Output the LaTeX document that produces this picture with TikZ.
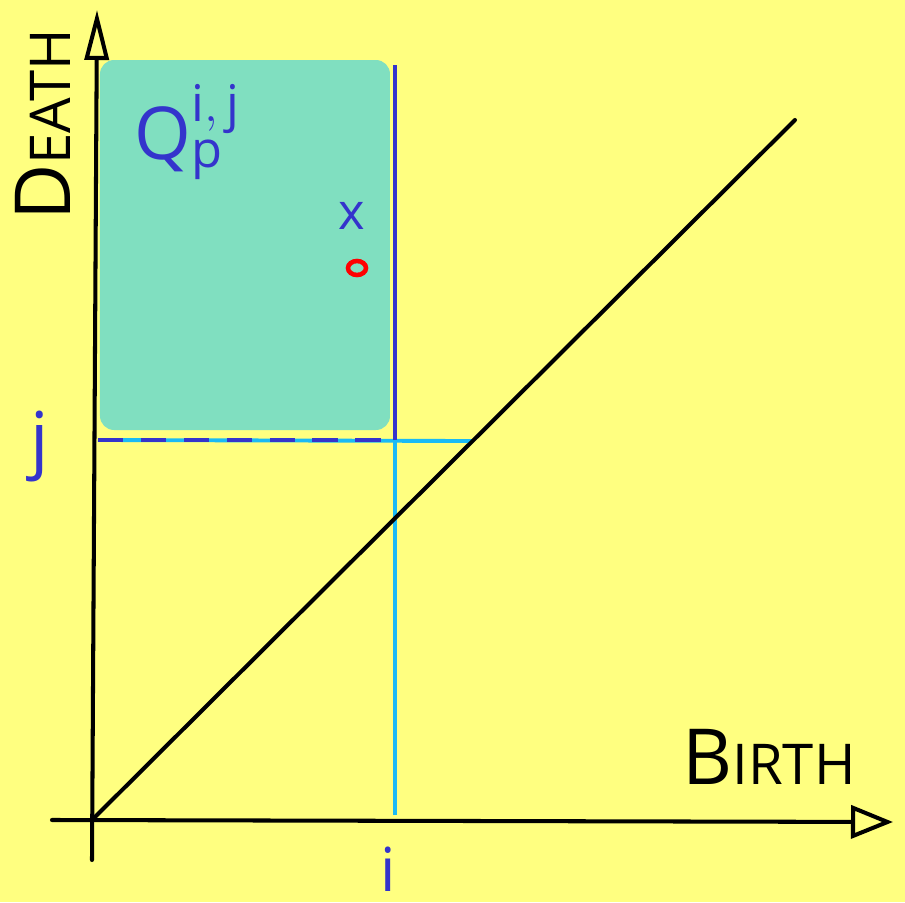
\documentclass[tikz,border=0pt]{standalone}
\usepackage{fontspec}
\setmainfont{Open Sans}
\setsansfont{Open Sans}
\usetikzlibrary{arrows.meta}
\definecolor{padyellow}{RGB}{255,255,128}
\definecolor{boxgreen}{RGB}{128,223,192}
\definecolor{penblue}{RGB}{52,52,204}
\definecolor{pencyan}{RGB}{26,186,245}
\tikzset{
  pen/.style={line width=1.15pt,line cap=round},
  axisarrow/.style={pen,-{Triangle[open,length=#1]}},
  bluepen/.style={penblue,line width=1.35pt},
  cyanpen/.style={pencyan,line width=1.1pt},
  bigcap/.style={font=\fontsize{21}{24}\selectfont},
}
\begin{document}
\begin{tikzpicture}[x=1cm,y=1cm]
  \useasboundingbox (0,0) rectangle (9.05,9.02);
  \clip (0,0) rectangle (9.05,9.02);
  \fill[padyellow] (0,0) rectangle (9.05,9.02);
  % the box Q above and left of (i,j)
  \fill[boxgreen,rounded corners=4pt] (1.00,4.72) rectangle (3.90,8.42);
  \coordinate (O) at (0.92,0.82);
  \coordinate (ybot) at (0.92,0.42);
  \coordinate (ytop) at (0.97,8.92);
  \coordinate (xleft) at (0.52,0.82);
  \coordinate (xright) at (8.93,0.80);
  \coordinate (diagend) at (7.95,7.82);
  \coordinate (ifoot) at (3.95,0.87);
  \coordinate (corner) at (3.95,4.62);
  \coordinate (itop) at (3.95,8.37);
  \coordinate (jleft) at (0.98,4.62);
  \coordinate (jdiag) at (4.72,4.61);
  \draw[cyanpen] (ifoot) -- (corner);
  \draw[cyanpen] (jleft) -- (jdiag);
  \draw[bluepen,dash pattern=on 7.2pt off 5pt] (jleft) -- (corner);
  \draw[bluepen] (corner) -- (itop);
  \draw[pen] (O) -- (diagend);
  \draw[axisarrow={0.5cm,width=0.24cm}] (ybot) -- (ytop);
  \draw[axisarrow={0.42cm,width=0.33cm}] (xleft) -- (xright);
  \node[rotate=90,font=\fontsize{16}{19}\selectfont] (death) at (0.43,7.77) {{\fontsize{22}{24}\selectfont D}EATH};
  \node[font=\fontsize{16}{19}\selectfont] (birth) at (7.69,1.45) {{\fontsize{22}{24}\selectfont B}IRTH};
  \node[penblue,font=\huge] (jlab) at (0.40,4.55) {j};
  \node[penblue,font=\LARGE] (ilab) at (3.88,0.33) {i};
  \node[penblue,font=\huge] (qlab) at (1.88,7.70) {$\mathsf{Q}_{\mathsf{p}}^{\mathsf{i,\,j}}$};
  \node[penblue,font=\Large] (cross) at (3.52,6.86) {x};
  \draw[red,line width=1.3pt] (3.57,6.34) ellipse (0.09 and 0.07);
\end{tikzpicture}
\end{document}
